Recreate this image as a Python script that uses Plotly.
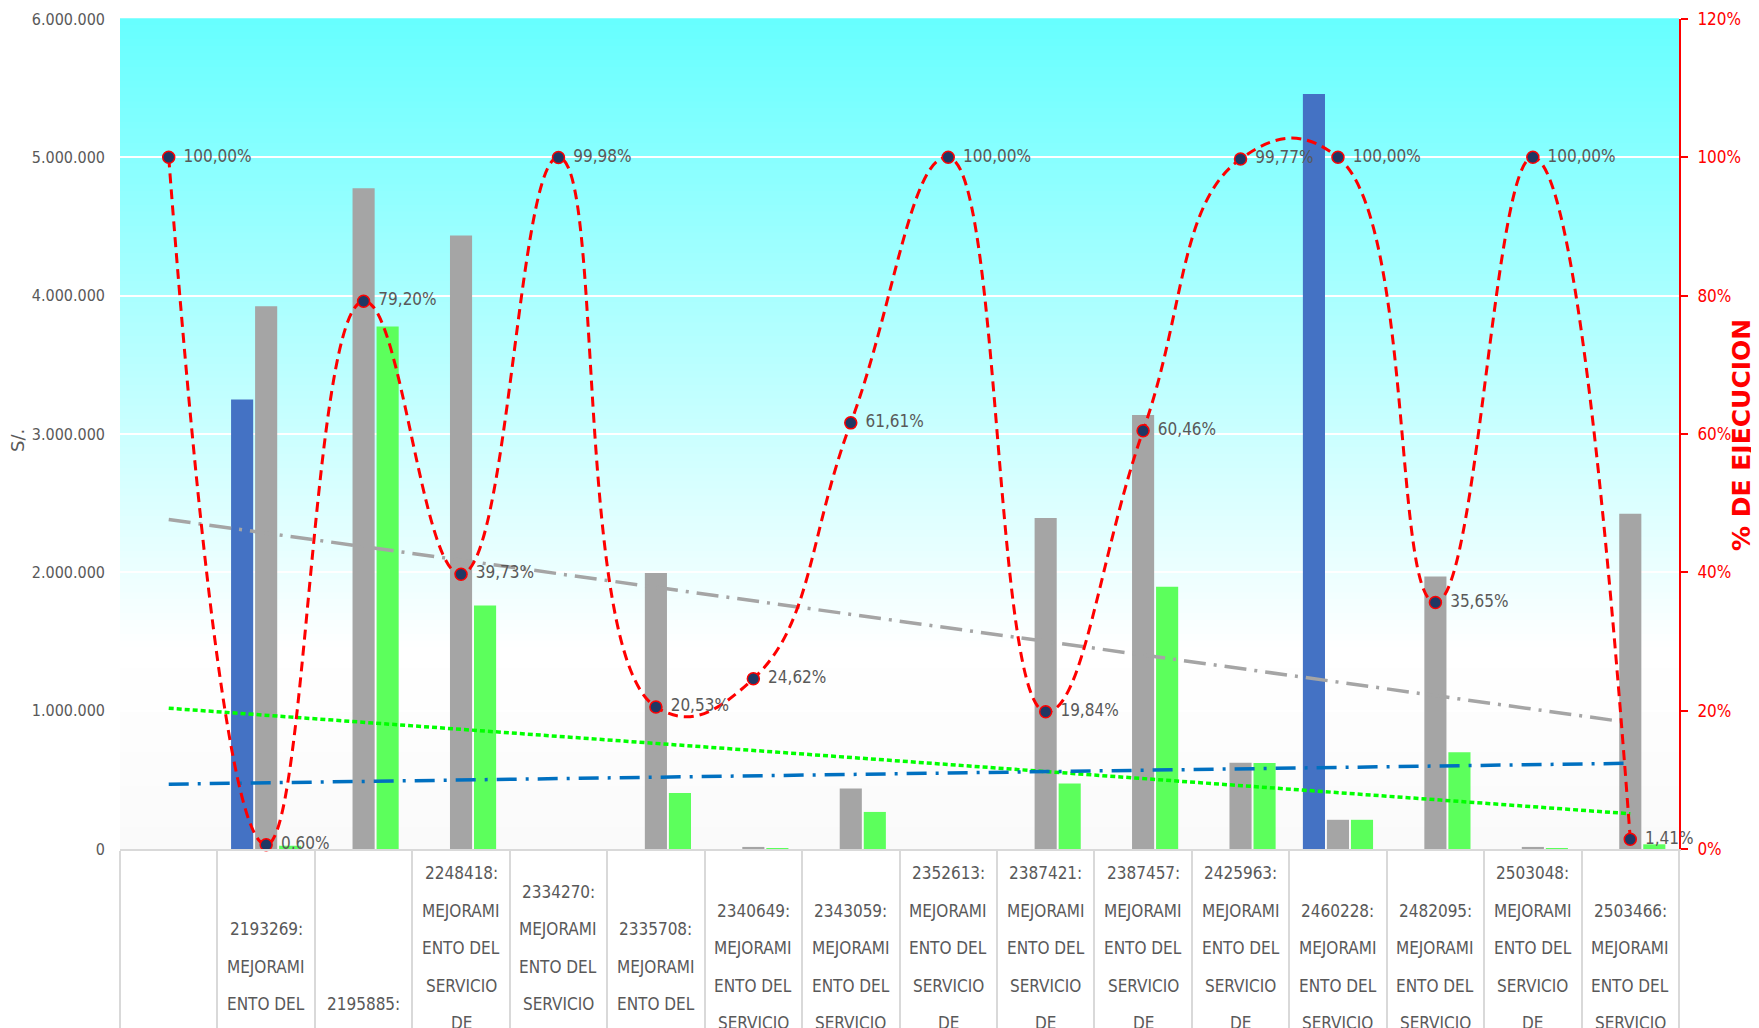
import numpy as np
import plotly.graph_objects as go

# ---------------- data ----------------
categories = [" ", "2193269", "2195885", "2248418", "2334270", "2335708", "2340649",
              "2343059", "2352613", "2387421", "2387457", "2425963", "2460228",
              "2482095", "2503048", "2503466"]

label_lines = [
    [],
    ["2193269:", "MEJORAMI", "ENTO DEL"],
    ["2195885:"],
    ["2248418:", "MEJORAMI", "ENTO DEL", "SERVICIO", "DE"],
    ["2334270:", "MEJORAMI", "ENTO DEL", "SERVICIO"],
    ["2335708:", "MEJORAMI", "ENTO DEL"],
    ["2340649:", "MEJORAMI", "ENTO DEL", "SERVICIO"],
    ["2343059:", "MEJORAMI", "ENTO DEL", "SERVICIO"],
    ["2352613:", "MEJORAMI", "ENTO DEL", "SERVICIO", "DE"],
    ["2387421:", "MEJORAMI", "ENTO DEL", "SERVICIO", "DE"],
    ["2387457:", "MEJORAMI", "ENTO DEL", "SERVICIO", "DE"],
    ["2425963:", "MEJORAMI", "ENTO DEL", "SERVICIO", "DE"],
    ["2460228:", "MEJORAMI", "ENTO DEL", "SERVICIO"],
    ["2482095:", "MEJORAMI", "ENTO DEL", "SERVICIO"],
    ["2503048:", "MEJORAMI", "ENTO DEL", "SERVICIO", "DE"],
    ["2503466:", "MEJORAMI", "ENTO DEL", "SERVICIO"],
]

pim = [None, 3250000, None, None, None, None, None, None, None, None, None, None,
       5457000, None, None, None]
pia = [0, 3924000, 4776000, 4435000, 0, 1995000, 15000, 438000, 0, 2392000,
       3138000, 624000, 211000, 1970000, 15000, 2424000]
devengado = [0, 23500, 3778000, 1760000, 0, 405000, 3700, 268000, 0, 474000,
             1895000, 622000, 211000, 700000, 5000, 34000]
ejecucion_pct = [100.00, 0.60, 79.20, 39.73, 99.98, 20.53, 24.62, 61.61, 100.00,
                 19.84, 60.46, 99.77, 100.00, 35.65, 100.00, 1.41]

y_ticks = [0, 1000000, 2000000, 3000000, 4000000, 5000000, 6000000]

# ---------------- style ----------------
FONT = "DejaVu Sans Condensed, Liberation Sans Narrow, sans-serif"
GRAY_TXT = "#595959"
BLUE = "#4472C4"
GRAY = "#A5A5A5"
GREEN = "#5CFF5C"
RED = "#FF0000"

fig = go.Figure()

# gradient background (bands)
n_bands = 120
for i in range(n_bands):
    f = (i + 0.5) / n_bands  # fraction from top
    if f < 0.76:
        r = 102 + (255 - 102) * f / 0.76
        g = b = 255
    else:
        k = (f - 0.76) / 0.24
        r = 255 - 5 * k
        g = b = 255 - 5 * k
    fig.add_shape(type="rect", xref="paper", yref="paper", x0=0, x1=1,
                  y0=1 - (i + 1) / n_bands, y1=1 - i / n_bands + 0.001,
                  line=dict(width=0), fillcolor=f"rgb({r:.0f},{g:.0f},{b:.0f})",
                  layer="below")

fig.add_trace(go.Bar(x=categories, y=pim, name="PIM", marker=dict(color=BLUE, line=dict(width=0))))
fig.add_trace(go.Bar(x=categories, y=pia, name="PIA", marker=dict(color=GRAY, line=dict(width=0))))
fig.add_trace(go.Bar(x=categories, y=devengado, name="DEVENGADO", marker=dict(color=GREEN, line=dict(width=0))))

# linear trendlines computed from the series
idx = np.arange(1, len(categories) + 1)
for series, color, dash in [(pia, GRAY, "22px,8px,3px,8px"),
                            (devengado, "#00FF00", "5px,3px"),
                            (pim, "#0070C0", "20px,9px,3px,9px")]:
    vals = np.array([0 if v is None else v for v in series], dtype=float)
    m, c = np.polyfit(idx, vals, 1)
    fig.add_trace(go.Scatter(x=categories, y=m * idx + c, mode="lines",
                             line=dict(color=color, width=3.5, dash=dash),
                             showlegend=False, hoverinfo="skip"))

pct_y = [v / 100 for v in ejecucion_pct]
pct_text = [f"{v:.2f}".replace(".", ",") + "%" for v in ejecucion_pct]
fig.add_trace(go.Scatter(x=categories, y=pct_y, yaxis="y2",
                         mode="lines+markers",
                         line=dict(color=RED, width=3, dash="10px,6px", shape="spline", smoothing=1.3),
                         marker=dict(symbol="circle", size=12, color="#203864",
                                     line=dict(color=RED, width=1.5)),
                         cliponaxis=False, showlegend=False))
# data labels (transparent carrier markers give the label offset)
fig.add_trace(go.Scatter(x=categories, y=pct_y, yaxis="y2", mode="markers+text",
                         text=pct_text, textposition="middle right",
                         textfont=dict(family=FONT, size=17, color=GRAY_TXT),
                         marker=dict(size=22, color="rgba(0,0,0,0)"),
                         cliponaxis=False, showlegend=False, hoverinfo="skip"))

# category labels below the axis
annotations = []
offsets_half = [0, 3, 7, 0, 1, 3, 2, 2, 0, 0, 0, 0, 2, 2, 0, 2]
for i, (lines, off) in enumerate(zip(label_lines, offsets_half)):
    for j, line in enumerate(lines):
        annotations.append(dict(x=i, xref="x", y=0, yref="paper", yanchor="middle",
                                xanchor="center", text=line, showarrow=False,
                                yshift=-(24 + 18.75 * off + 37.5 * j),
                                font=dict(family=FONT, size=17, color=GRAY_TXT)))

annotations.append(dict(x=0, xref="paper", xshift=-103, xanchor="center", y=0.5, yref="paper",
                        yshift=-7, text="S/.", textangle=-90, showarrow=False,
                        font=dict(family="DejaVu Sans", size=18, color=GRAY_TXT)))
annotations.append(dict(x=1, xref="paper", y=0.5, yref="paper", xanchor="center",
                        xshift=62, yshift=-1,
                        text="<b>% DE EJECUCION</b>", textangle=-90, showarrow=False,
                        font=dict(family="DejaVu Sans", size=25, color=RED)))

fig.update_layout(
    width=1751, height=1020,
    margin=dict(l=112, r=80, t=11, b=179, autoexpand=False),
    paper_bgcolor="white", plot_bgcolor="rgba(0,0,0,0)",
    barmode="group", bargap=0.26, bargroupgap=0.08,
    separators=",.",
    showlegend=False,
    annotations=annotations,
    xaxis=dict(type="category", categoryorder="array", categoryarray=categories,
               range=[-0.5, len(categories) - 0.5], autorange=False,
               showticklabels=False, ticks="outside",
               tickson="boundaries", ticklen=185, tickcolor="#D9D9D9", tickwidth=1.5,
               showline=True, linecolor="#D9D9D9", linewidth=1.5, showgrid=False,
               zeroline=False, automargin=False),
    yaxis=dict(range=[0, 6000000], tickvals=y_ticks, tickformat=",d",
               showgrid=True, gridcolor="white", gridwidth=1.5, zeroline=False,
               showline=False, ticks="", ticklabelstandoff=14,
               tickfont=dict(family=FONT, size=16, color=GRAY_TXT), automargin=False),
    yaxis2=dict(overlaying="y", side="right", range=[0, 1.2], tickvals=[0, 0.2, 0.4, 0.6, 0.8, 1.0, 1.2],
                tickformat=".0%", showgrid=False, zeroline=False, showline=True,
                linecolor=RED, linewidth=2, ticks="outside", ticklen=7, tickcolor=RED,
                tickwidth=2, ticklabelstandoff=6,
                tickfont=dict(family=FONT, size=17, color=RED), automargin=False),
)

fig.write_html("out.html")
